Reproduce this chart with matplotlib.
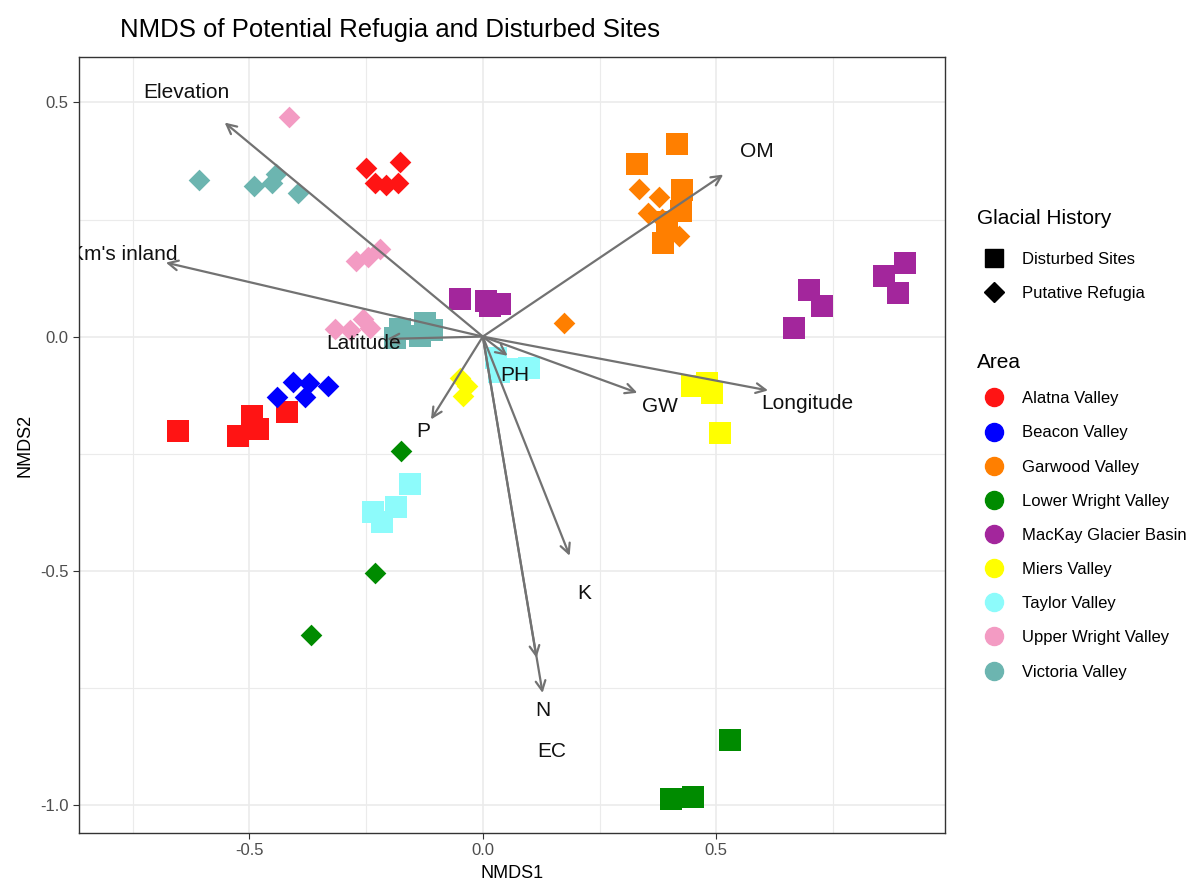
import numpy as np
import matplotlib.pyplot as plt
from matplotlib.lines import Line2D

plt.rcParams['font.family'] = ['Liberation Sans', 'DejaVu Sans']
plt.rcParams['axes.unicode_minus'] = False

# NMDS scores: squares = disturbed sites, diamonds = putative refugia
areas = ["Alatna Valley", "Beacon Valley", "Garwood Valley", "Lower Wright Valley",
         "MacKay Glacier Basin", "Miers Valley", "Taylor Valley", "Upper Wright Valley",
         "Victoria Valley"]
area_colors = ["#FF1414", "#0000FF", "#FF7F00", "#008B00", "#A3269C",
               "#FFFF00", "#8DFBFB", "#F39BC3", "#6CB5B0"]

alatna_sq_x = [-0.652, -0.524, -0.494, -0.481, -0.419]
alatna_sq_y = [-0.201, -0.212, -0.169, -0.197, -0.162]
alatna_dm_x = [-0.250, -0.177, -0.231, -0.207, -0.182]
alatna_dm_y = [0.361, 0.372, 0.327, 0.323, 0.329]

beacon_sq_x = []
beacon_sq_y = []
beacon_dm_x = [-0.440, -0.406, -0.372, -0.380, -0.331]
beacon_dm_y = [-0.130, -0.096, -0.100, -0.128, -0.105]

garwood_sq_x = [0.415, 0.331, 0.427, 0.425, 0.385, 0.395]
garwood_sq_y = [0.412, 0.368, 0.312, 0.269, 0.199, 0.244]
garwood_dm_x = [0.335, 0.378, 0.353, 0.383, 0.421, 0.173]
garwood_dm_y = [0.316, 0.297, 0.263, 0.252, 0.215, 0.028]

lwright_sq_x = [0.530, 0.404, 0.451]
lwright_sq_y = [-0.861, -0.987, -0.983]
lwright_dm_x = [-0.175, -0.231, -0.368]
lwright_dm_y = [-0.244, -0.504, -0.637]

mackay_sq_x = [-0.049, 0.006, 0.036, 0.015, 0.699, 0.726, 0.667, 0.859, 0.904, 0.889]
mackay_sq_y = [0.081, 0.077, 0.070, 0.066, 0.100, 0.066, 0.019, 0.130, 0.158, 0.092]
mackay_dm_x = []
mackay_dm_y = []

miers_sq_x = [0.449, 0.481, 0.491, 0.508]
miers_sq_y = [-0.105, -0.100, -0.120, -0.205]
miers_dm_x = [-0.049, -0.034, -0.043]
miers_dm_y = [-0.088, -0.105, -0.126]

taylor_sq_x = [-0.156, -0.186, -0.235, -0.216, 0.028, 0.035, 0.075, 0.098]
taylor_sq_y = [-0.314, -0.363, -0.374, -0.395, -0.045, -0.075, -0.070, -0.068]
taylor_dm_x = []
taylor_dm_y = []

uwright_sq_x = []
uwright_sq_y = []
uwright_dm_x = [-0.415, -0.271, -0.246, -0.220, -0.316, -0.284, -0.256, -0.241]
uwright_dm_y = [0.468, 0.162, 0.171, 0.186, 0.017, 0.013, 0.038, 0.019]

victoria_sq_x = [-0.124, -0.177, -0.135, -0.188, -0.109]
victoria_sq_y = [0.030, 0.017, 0.002, -0.002, 0.013]
victoria_dm_x = [-0.609, -0.491, -0.451, -0.442, -0.395]
victoria_dm_y = [0.335, 0.321, 0.329, 0.348, 0.306]

squares = [(alatna_sq_x, alatna_sq_y), (beacon_sq_x, beacon_sq_y), (garwood_sq_x, garwood_sq_y),
           (lwright_sq_x, lwright_sq_y), (mackay_sq_x, mackay_sq_y), (miers_sq_x, miers_sq_y),
           (taylor_sq_x, taylor_sq_y), (uwright_sq_x, uwright_sq_y), (victoria_sq_x, victoria_sq_y)]
diamonds = [(alatna_dm_x, alatna_dm_y), (beacon_dm_x, beacon_dm_y), (garwood_dm_x, garwood_dm_y),
            (lwright_dm_x, lwright_dm_y), (mackay_dm_x, mackay_dm_y), (miers_dm_x, miers_dm_y),
            (taylor_dm_x, taylor_dm_y), (uwright_dm_x, uwright_dm_y), (victoria_dm_x, victoria_dm_y)]

# environmental vectors (envfit arrows)
env_names = ["Elevation", "Km's inland", "OM", "Longitude", "GW", "PH", "P",
             "Latitude", "K", "N", "EC"]
env_x = [-0.553, -0.679, 0.515, 0.611, 0.331, 0.053, -0.111, -0.205, 0.186, 0.115, 0.128]
env_y = [0.457, 0.158, 0.346, -0.115, -0.120, -0.041, -0.177, -0.005, -0.468, -0.686, -0.761]
label_x = [-0.635, -0.770, 0.588, 0.694, 0.380, 0.068, -0.128, -0.256, 0.218, 0.128, 0.147]
label_y = [0.521, 0.175, 0.395, -0.143, -0.150, -0.083, -0.203, -0.015, -0.549, -0.799, -0.885]

W, H = 1199, 888
fig = plt.figure(figsize=(W / 100, H / 100), dpi=100)
ax = fig.add_axes([79 / W, 1 - 833 / H, (945 - 79) / W, (833 - 57) / H])

for (sx, sy), (dx, dy), col in zip(squares, diamonds, area_colors):
    ax.scatter(sx, sy, marker='s', s=250, color=col, linewidths=0, zorder=3)
    ax.scatter(dx, dy, marker='D', s=122, color=col, linewidths=0, zorder=3)

for name, vx, vy, lx, ly in zip(env_names, env_x, env_y, label_x, label_y):
    ax.annotate('', xy=(vx, vy), xytext=(0, 0),
                arrowprops=dict(arrowstyle='->,head_length=0.7,head_width=0.35',
                                color='#727272', lw=1.6, shrinkA=0, shrinkB=0),
                zorder=4)
    ax.text(lx, ly, name, ha='center', va='center', fontsize=15, color='#111111',
            zorder=5, clip_on=True)

ax.set_xlim(-0.865, 0.99)
ax.set_ylim(-1.06, 0.597)
ax.set_xticks([-0.5, 0.0, 0.5])
ax.set_yticks([-1.0, -0.5, 0.0, 0.5])
ax.set_xticks([-0.75, -0.25, 0.25, 0.75], minor=True)
ax.set_yticks([-0.75, -0.25, 0.25], minor=True)
ax.grid(True, which='major', color='#EBEBEB', lw=1.2)
ax.grid(True, which='minor', color='#EBEBEB', lw=0.8)
ax.set_axisbelow(True)
ax.tick_params(which='minor', length=0)
ax.tick_params(which='major', length=4, color='#333333', labelsize=12, labelcolor='#4D4D4D')
for sp in ax.spines.values():
    sp.set_color('#333333')
    sp.set_linewidth(1.0)

ax.set_xlabel('NMDS1', fontsize=13, labelpad=5)
ax.set_ylabel('NMDS2', fontsize=13, labelpad=5)
fig.text(120 / W, 1 - 30 / H, 'NMDS of Potential Refugia and Disturbed Sites',
         fontsize=18.5, ha='left', va='center')

# legends
hist_handles = [Line2D([], [], ls='', marker='s', ms=13, color='black'),
                Line2D([], [], ls='', marker='D', ms=10, color='black')]
leg1 = fig.legend(hist_handles, ['Disturbed Sites', 'Putative Refugia'], title='Glacial History',
                  loc='upper left', bbox_to_anchor=(962 / W, 1 - 194 / H), frameon=False,
                  fontsize=12, title_fontsize=15, labelspacing=1.15, handletextpad=0.7,
                  alignment='left')
leg1._legend_box.sep = 17
area_handles = [Line2D([], [], ls='', marker='o', ms=13, color=c) for c in area_colors]
leg2 = fig.legend(area_handles, areas, title='Area',
                  loc='upper left', bbox_to_anchor=(962 / W, 1 - 338 / H), frameon=False,
                  fontsize=12, title_fontsize=15, labelspacing=1.15, handletextpad=0.7,
                  alignment='left')

fig.savefig('out.png', dpi=100)
